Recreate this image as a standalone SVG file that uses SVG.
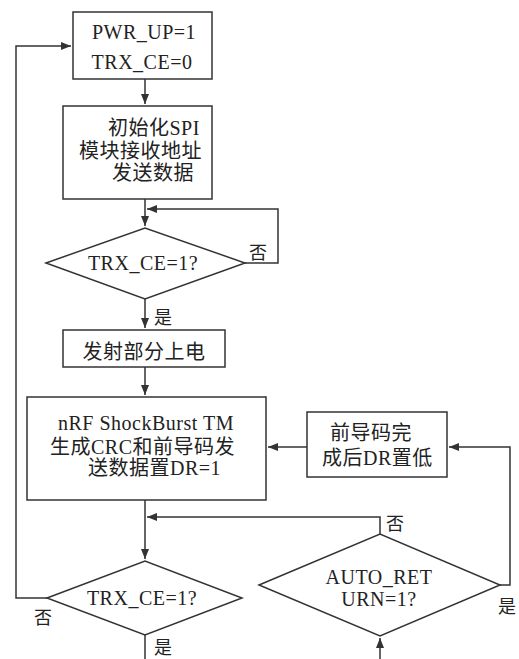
<svg xmlns="http://www.w3.org/2000/svg" width="519" height="659" viewBox="0 0 519 659">
<style>
.n{fill:#fff;stroke:#333;stroke-width:1.5}
.c{fill:none;stroke:#333;stroke-width:1.5}
text{font-family:"Liberation Serif","Noto Sans CJK SC",serif;font-size:20px;fill:#222;letter-spacing:0.5px}
.m{text-anchor:middle}
.l{font-size:18px;letter-spacing:0}
</style>
<defs>
<marker id="a" viewBox="0 0 10 8" refX="10" refY="4" markerWidth="10" markerHeight="8" markerUnits="userSpaceOnUse" orient="auto">
<path d="M0,0L10,4L0,8z" fill="#333"/>
</marker>
</defs>
<rect width="519" height="659" fill="#fff"/>
<g id="connectors">
<path class="c" d="M145,79V104" marker-end="url(#a)"/>
<path class="c" d="M145,199V226" marker-end="url(#a)"/>
<path class="c" d="M245,263H278V209H147" marker-end="url(#a)"/>
<path class="c" d="M145,299V328" marker-end="url(#a)"/>
<path class="c" d="M145,367V395" marker-end="url(#a)"/>
<path class="c" d="M307,447H268" marker-end="url(#a)"/>
<path class="c" d="M500,585H510V447H449" marker-end="url(#a)"/>
<path class="c" d="M145,500V559" marker-end="url(#a)"/>
<path class="c" d="M380,534V517H147" marker-end="url(#a)"/>
<path class="c" d="M47,598H16V46H71" marker-end="url(#a)"/>
<path class="c" d="M145,635V659"/>
<path class="c" d="M380,659V638" marker-end="url(#a)"/>
</g>
<g id="n1">
<rect class="n" x="73" y="12" width="139" height="67"/>
<text class="m" x="144" y="39">PWR_UP=1</text>
<text class="m" x="142" y="69">TRX_CE=0</text>
</g>
<g id="n2">
<rect class="n" x="63" y="106" width="149" height="93"/>
<text x="108" y="135">初始化SPI</text>
<text x="79" y="158">模块接收地址</text>
<text x="112" y="180">发送数据</text>
</g>
<g id="d1">
<polygon class="n" points="46,263 145,228 245,263 145,299"/>
<text class="m" x="143" y="270">TRX_CE=1?</text>
</g>
<g id="n3">
<rect class="n" x="63" y="330" width="162" height="37"/>
<text class="m" x="144" y="359">发射部分上电</text>
</g>
<g id="n4">
<rect class="n" x="27" y="397" width="239" height="103"/>
<text x="58" y="430">nRF ShockBurst TM</text>
<text x="50" y="454">生成CRC和前导码发</text>
<text x="88" y="475">送数据置DR=1</text>
</g>
<g id="n5">
<rect class="n" x="307" y="412" width="140" height="65"/>
<text x="330" y="440">前导码完</text>
<text x="322" y="465">成后DR置低</text>
</g>
<g id="d2">
<polygon class="n" points="47,598 145,561 242,598 145,635"/>
<text class="m" x="142" y="605">TRX_CE=1?</text>
</g>
<g id="d3">
<polygon class="n" points="259,585 380,534 500,585 380,636"/>
<text class="m" x="379" y="584">AUTO_RET</text>
<text class="m" x="379" y="606">URN=1?</text>
</g>
<g id="labels">
<text class="m l" x="258" y="259">否</text>
<text class="m l" x="163" y="324">是</text>
<text class="m l" x="395" y="530">否</text>
<text class="m l" x="43" y="624">否</text>
<text class="m l" x="163" y="654">是</text>
<text class="m l" x="507" y="613">是</text>
</g>
</svg>
